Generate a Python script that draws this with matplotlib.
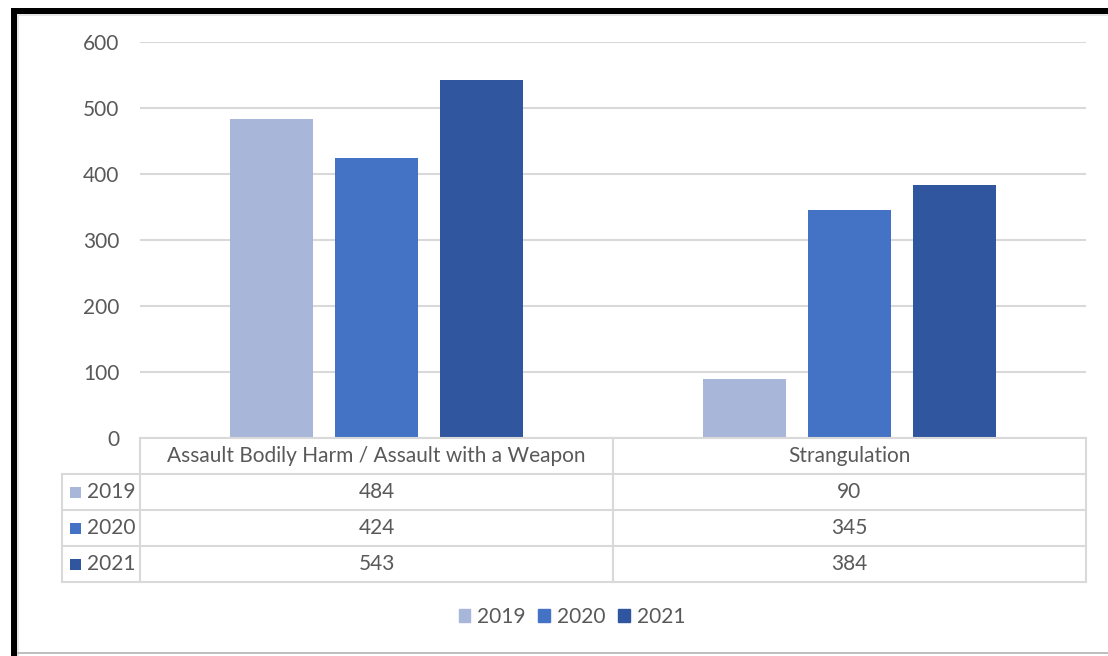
import matplotlib.pyplot as plt
from matplotlib.lines import Line2D
from matplotlib.patches import Patch, Rectangle
import numpy as np

categories = ["Assault Bodily Harm / Assault with a Weapon", "Strangulation"]
years = ["2019", "2020", "2021"]
values_2019 = [484, 90]
values_2020 = [424, 345]
values_2021 = [543, 384]
yticks = [0, 100, 200, 300, 400, 500, 600]

colors = ["#A8B6DA", "#4472C4", "#2F569E"]
text_color = "#595959"
grid_color = "#D9D9D9"
font = "Lato"
fs = 15

W, H = 1108, 656


def fx(px):
    return px / W


def fy(py):
    return 1 - py / H


def box(fig, x0, y0, x1, y1, color):
    # rectangle given in pixel coords (top-left origin)
    fig.add_artist(Rectangle((fx(x0), fy(y1)), fx(x1) - fx(x0), (y1 - y0) / H,
                             color=color, lw=0, antialiased=False))


def main() -> None:
    plt.rcParams["font.family"] = [font, "DejaVu Sans"]
    fig = plt.figure(figsize=(W / 100, H / 100), dpi=100)
    ax = fig.add_axes([fx(140), fy(438), fx(1086) - fx(140), fy(42) - fy(438)])

    series = [values_2019, values_2020, values_2021]
    x = np.arange(len(categories))
    width = 0.1755
    step = 0.222
    for i, (vals, c) in enumerate(zip(series, colors)):
        ax.bar(x + (i - 1) * step, vals, width=width, color=c, zorder=3)

    ax.set_xlim(-0.5, len(categories) - 0.5)
    ax.set_ylim(0, 600)
    ax.set_yticks(yticks)
    ax.set_yticklabels([str(v) for v in yticks], fontsize=fs, color=text_color)
    ax.tick_params(axis="y", length=0, pad=15)
    ax.set_xticks([])
    for s in ax.spines.values():
        s.set_visible(False)
    ax.yaxis.grid(True, color=grid_color, linewidth=1.5, zorder=0)
    ax.set_axisbelow(True)

    # data table below the plot
    lw = 1.5
    col_edges = [140, 613, 1086]
    row_edges = [438, 474, 510, 546, 582]
    fig.add_artist(Line2D([fx(140), fx(1086)], [fy(438), fy(438)], color=grid_color, lw=lw))
    for ry in row_edges[1:]:
        fig.add_artist(Line2D([fx(62), fx(1086)], [fy(ry), fy(ry)], color=grid_color, lw=lw))
    fig.add_artist(Line2D([fx(62), fx(62)], [fy(474), fy(582)], color=grid_color, lw=lw))
    for cx in col_edges:
        fig.add_artist(Line2D([fx(cx), fx(cx)], [fy(438), fy(582)], color=grid_color, lw=lw))

    for j, cat in enumerate(categories):
        cx = (col_edges[j] + col_edges[j + 1]) / 2
        fig.text(fx(cx), fy(456), cat, ha="center", va="center", fontsize=fs, color=text_color)
        for i, vals in enumerate(series):
            cy = (row_edges[i + 1] + row_edges[i + 2]) / 2
            fig.text(fx(cx), fy(cy), str(vals[j]), ha="center", va="center",
                     fontsize=fs, color=text_color)

    for i, (yr, c) in enumerate(zip(years, colors)):
        cy = (row_edges[i + 1] + row_edges[i + 2]) / 2
        box(fig, 70, cy - 5.5, 81, cy + 5.5, c)
        fig.text(fx(87), fy(cy), yr, ha="left", va="center", fontsize=fs, color=text_color)

    handles = [Patch(color=c, label=y) for y, c in zip(years, colors)]
    fig.legend(handles=handles, loc="center", bbox_to_anchor=(fx(572), fy(617)), ncol=3,
               frameon=False, fontsize=fs, handlelength=0.55, handleheight=0.55,
               handletextpad=0.35, columnspacing=0.6, labelcolor=text_color)

    # outer frame
    box(fig, 11, 8, 17, 656, "black")
    box(fig, 11, 8, 1108, 14, "black")
    box(fig, 17, 14, 1108, 16, "#E6E6E6")
    box(fig, 17, 14, 19, 656, "#E6E6E6")
    box(fig, 17, 652, 1108, 654, "#BFBFBF")

    fig.savefig("out.png", dpi=100)


if __name__ == "__main__":
    main()
